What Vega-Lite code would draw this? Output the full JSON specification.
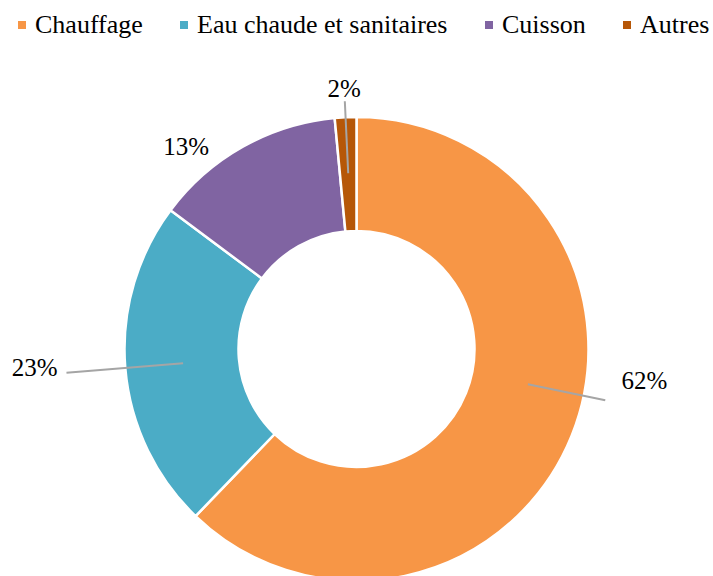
{
  "$schema": "https://vega.github.io/schema/vega-lite/v6.json",
  "width": 713,
  "height": 698,
  "autosize": {"type": "none"},
  "padding": 0,
  "background": "white",
  "config": {"view": {"stroke": null}, "font": "Liberation Serif, DejaVu Serif, serif"},
  "data": {
    "values": [
      {"categorie": "Chauffage", "valeur": 62.2},
      {"categorie": "Eau chaude et sanitaires", "valeur": 23.0},
      {"categorie": "Cuisson", "valeur": 13.3},
      {"categorie": "Autres", "valeur": 1.5}
    ]
  },
  "transform": [
    {"window": [{"op": "row_number", "as": "rang"}]},
    {"window": [{"op": "sum", "field": "valeur", "as": "cumul"}], "sort": [{"field": "rang"}], "frame": [null, 0]},
    {"calculate": "datum.cumul - datum.valeur / 2", "as": "milieu"},
    {"calculate": "format(datum.valeur, '.0f') + '%'", "as": "etiquette"}
  ],
  "layer": [
    {
      "mark": {"type": "arc", "radius": 232, "radius2": 118, "stroke": "white", "strokeWidth": 2.5},
      "encoding": {
        "theta": {"field": "valeur", "type": "quantitative", "stack": true, "scale": {"domain": [0, 100]}},
        "order": {"field": "rang", "type": "quantitative"},
        "color": {
          "field": "categorie",
          "type": "nominal",
          "scale": {
            "domain": ["Chauffage", "Eau chaude et sanitaires", "Cuisson", "Autres"],
            "range": ["#F79646", "#4BACC6", "#8064A2", "#B65708"]
          },
          "legend": {
            "orient": "none",
            "legendX": 9,
            "legendY": 12,
            "direction": "horizontal",
            "title": null,
            "symbolType": "square",
            "symbolSize": 64,
            "symbolStrokeWidth": 0,
            "labelFont": "Liberation Serif, DejaVu Serif, serif",
            "labelFontSize": 26,
            "labelColor": "#000000",
            "labelLimit": 0,
            "labelOffset": 0,
            "columnPadding": 28,
            "padding": 0
          }
        }
      }
    },
    {
      "transform": [{"filter": "datum.categorie === 'Eau chaude et sanitaires'"}],
      "mark": {"type": "arc", "filled": false, "radius": 291, "radius2": 174, "stroke": "#A5A5A5", "strokeWidth": 2},
      "encoding": {
        "theta": {"field": "milieu", "type": "quantitative", "stack": false},
        "theta2": {"field": "milieu"}
      }
    },
    {
      "transform": [{"filter": "datum.categorie === 'Autres'"}],
      "mark": {"type": "arc", "filled": false, "radius": 248, "radius2": 176, "stroke": "#A5A5A5", "strokeWidth": 2},
      "encoding": {
        "theta": {"field": "milieu", "type": "quantitative", "stack": false},
        "theta2": {"field": "milieu"}
      }
    },
    {
      "transform": [{"filter": "datum.categorie === 'Chauffage'"}],
      "mark": {"type": "arc", "filled": false, "radius": 254, "radius2": 175, "thetaOffset": -0.18, "theta2Offset": -0.18, "stroke": "#A5A5A5", "strokeWidth": 2},
      "encoding": {
        "theta": {"field": "milieu", "type": "quantitative", "stack": false},
        "theta2": {"field": "milieu"}
      }
    },
    {
      "transform": [{"filter": "datum.categorie === 'Chauffage'"}],
      "mark": {"type": "text", "radius": 290, "dx": 19, "dy": -76, "fontSize": 25, "font": "Liberation Serif, DejaVu Serif, serif", "color": "#000000"},
      "encoding": {
        "theta": {"field": "milieu", "type": "quantitative", "stack": false},
        "text": {"field": "etiquette"}
      }
    },
    {
      "transform": [{"filter": "datum.categorie === 'Eau chaude et sanitaires'"}],
      "mark": {"type": "text", "radius": 322, "dx": -1, "dy": -7, "fontSize": 25, "font": "Liberation Serif, DejaVu Serif, serif", "color": "#000000"},
      "encoding": {
        "theta": {"field": "milieu", "type": "quantitative", "stack": false},
        "text": {"field": "etiquette"}
      }
    },
    {
      "transform": [{"filter": "datum.categorie === 'Cuisson'"}],
      "mark": {"type": "text", "radius": 264, "dx": -41, "dy": 28, "fontSize": 25, "font": "Liberation Serif, DejaVu Serif, serif", "color": "#000000"},
      "encoding": {
        "theta": {"field": "milieu", "type": "quantitative", "stack": false},
        "text": {"field": "etiquette"}
      }
    },
    {
      "transform": [{"filter": "datum.categorie === 'Autres'"}],
      "mark": {"type": "text", "radius": 260, "fontSize": 25, "font": "Liberation Serif, DejaVu Serif, serif", "color": "#000000"},
      "encoding": {
        "theta": {"field": "milieu", "type": "quantitative", "stack": false},
        "text": {"field": "etiquette"}
      }
    }
  ]
}
